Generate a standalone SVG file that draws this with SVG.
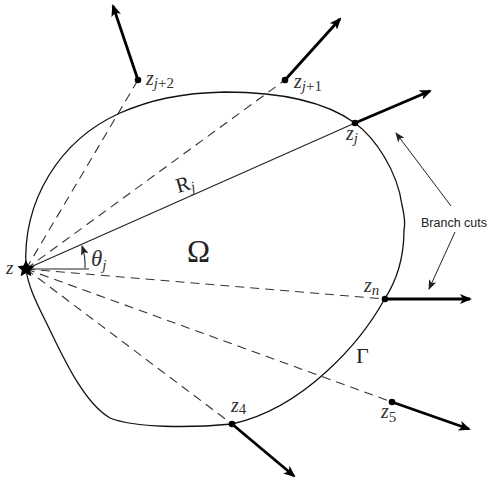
<svg xmlns="http://www.w3.org/2000/svg" width="487" height="482" viewBox="0 0 487 482">
<style>
.bd{fill:none;stroke:#111;stroke-width:1.3}
.ds{fill:none;stroke:#333;stroke-width:1.1;stroke-dasharray:9 6}
.sl{fill:none;stroke:#222;stroke-width:1.1}
.th{fill:none;stroke:#000;stroke-width:2.8}
.tn{fill:none;stroke:#222;stroke-width:1}
.dot{fill:#000}
.m{font-family:"Liberation Serif","DejaVu Serif",serif;font-style:italic;fill:#333}
.r{font-family:"Liberation Serif","DejaVu Serif",serif;fill:#222}
.lb{font-family:"Liberation Sans",Arial,sans-serif;font-size:12.5px;fill:#222}
</style>
<defs>
<marker id="ah" viewBox="0 0 12 10" refX="10" refY="5" markerWidth="12" markerHeight="10" markerUnits="userSpaceOnUse" orient="auto">
<path d="M0,0 L12,5 L0,10 L3,5 Z" fill="#000"/>
</marker>
<marker id="as" viewBox="0 0 10 8" refX="9" refY="4" markerWidth="10" markerHeight="8" markerUnits="userSpaceOnUse" orient="auto">
<path d="M0,0 L10,4 L0,8 L2.5,4 Z" fill="#222"/>
</marker>
</defs>
<g id="boundary">
<path class="bd" d="M26,269 C22,200 60,140 120,113 C150,100 180,93 225,92 C290,92 330,105 355,123 C375,138 397,170 402,205 C404,215 406,222 404,230 C404,260 396,282 384,300 C362,340 305,408 232,424 C190,428 135,428 110,418 C82,402 60,350 45,320 C35,300 28,285 26,269 Z"/>
</g>
<g id="connectors">
<line class="ds" x1="26" y1="269" x2="138" y2="80"/>
<line class="ds" x1="26" y1="269" x2="285" y2="80"/>
<line class="ds" x1="26" y1="269" x2="385" y2="299"/>
<line class="ds" x1="26" y1="269" x2="392" y2="402"/>
<line class="ds" x1="26" y1="269" x2="232" y2="424"/>
<line class="sl" x1="26" y1="269" x2="355" y2="123"/>
<line class="sl" x1="26" y1="269" x2="89" y2="269"/>
<path class="sl" d="M85,268 A59,59 0 0 0 82,246" marker-end="url(#as)"/>
<line class="th" x1="138" y1="80" x2="113" y2="6" marker-end="url(#ah)"/>
<line class="th" x1="285" y1="80" x2="340" y2="19" marker-end="url(#ah)"/>
<line class="th" x1="355" y1="123" x2="430" y2="91" marker-end="url(#ah)"/>
<line class="th" x1="385" y1="299" x2="470" y2="299" marker-end="url(#ah)"/>
<line class="th" x1="392" y1="402" x2="469" y2="429" marker-end="url(#ah)"/>
<line class="th" x1="232" y1="424" x2="294" y2="476" marker-end="url(#ah)"/>
<line class="tn" x1="451" y1="206" x2="396" y2="133" marker-end="url(#as)"/>
<line class="tn" x1="455" y1="232" x2="429" y2="289" marker-end="url(#as)"/>
</g>
<g id="z">
<polygon class="dot" points="26,260 28.6,265.4 34.6,266.2 30.2,270.2 31.3,276.3 26,273.3 20.7,276.3 21.8,270.2 17.4,266.2 23.4,265.4"/>
<text class="m" x="6" y="274" font-size="19">z</text>
</g>
<g id="zj2">
<circle class="dot" cx="138" cy="80" r="3.3"/>
<text class="m" x="146" y="85" font-size="20">z<tspan font-size="15" dy="3">j</tspan><tspan font-style="normal" font-size="15">+2</tspan></text>
</g>
<g id="zj1">
<circle class="dot" cx="285" cy="80" r="3.3"/>
<text class="m" x="294" y="88" font-size="20">z<tspan font-size="15" dy="3">j</tspan><tspan font-style="normal" font-size="15">+1</tspan></text>
</g>
<g id="zj">
<circle class="dot" cx="355" cy="123" r="3.3"/>
<text class="m" x="346" y="140" font-size="20">z<tspan font-size="15" dy="3">j</tspan></text>
</g>
<g id="zn">
<circle class="dot" cx="385" cy="299" r="3.3"/>
<text class="m" x="364" y="292" font-size="20">z<tspan font-size="15" dy="3">n</tspan></text>
</g>
<g id="z5">
<circle class="dot" cx="392" cy="402" r="3.3"/>
<text class="m" x="381" y="418" font-size="20">z<tspan font-style="normal" font-size="15" dy="4">5</tspan></text>
</g>
<g id="z4">
<circle class="dot" cx="232" cy="424" r="3.3"/>
<text class="m" x="231" y="412" font-size="20">z<tspan font-style="normal" font-size="15" dy="2">4</tspan></text>
</g>
<g id="labels">
<text class="r" x="178" y="193" font-size="21" transform="rotate(-16 178 193)">R<tspan class="m" font-size="15" dy="3">j</tspan></text>
<text class="m" x="91" y="266" font-size="23">θ<tspan font-size="15" dy="4">j</tspan></text>
<text class="r" x="187" y="262" font-size="31">Ω</text>
<text class="r" x="356" y="363" font-size="22">Γ</text>
<text class="lb" x="421" y="227">Branch cuts</text>
</g>
</svg>
